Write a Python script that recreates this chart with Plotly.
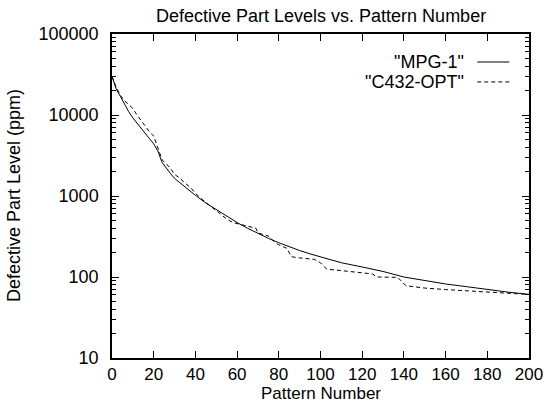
import plotly.graph_objects as go

# ---- data ----
mpg_x = [0, 2, 4, 6, 8, 10, 12, 14, 16, 18, 20, 22, 24, 26, 28, 30, 35, 40, 45, 50,
         55, 60, 65, 70, 75, 80, 85, 90, 95, 100, 110, 120, 130, 140, 150, 160, 170,
         180, 190, 200]
mpg_y = [30000, 21000, 17000, 13500, 11000, 9200, 8000, 6800, 5900, 5100, 4400, 3600,
         2600, 2200, 1900, 1650, 1280, 1020, 820, 680, 560, 470, 400, 345, 300, 265,
         235, 212, 193, 178, 150, 133, 117, 100, 90, 82, 76, 70, 65, 61]

c432_x = [0, 2, 4, 6, 8, 10, 12, 14, 16, 18, 20, 22, 24, 26, 28, 30, 32, 35, 38, 40,
          45, 50, 55, 58, 62, 66, 69, 70, 75, 78, 80, 84, 86, 90, 94, 97, 100, 103,
          110, 120, 125, 127, 137, 141, 150, 160, 170, 180, 190, 200]
c432_y = [30000, 22000, 17500, 15000, 13500, 12000, 10000, 8500, 7200, 6200, 5500,
          3800, 2800, 2500, 2200, 1850, 1700, 1450, 1250, 1080, 830, 660, 520, 470,
          440, 420, 400, 350, 320, 270, 250, 225, 178, 172, 170, 165, 150, 125, 120,
          113, 109, 100, 99, 78, 73, 70, 68, 66, 63, 61]

x_ticks = [0, 20, 40, 60, 80, 100, 120, 140, 160, 180, 200]
y_ticks = [10, 100, 1000, 10000, 100000]
y_tick_text = ["10", "100", "1000", "10000", "100000"]
series_names = ['"MPG-1"', '"C432-OPT"']

FONT = "Liberation Sans, Arial, Helvetica, sans-serif"
FS = 18
FS_SMALL = 17

y_minor = [m * d for d in [10, 100, 1000, 10000] for m in range(2, 10)]

fig = go.Figure()
fig.add_trace(go.Scatter(x=mpg_x, y=mpg_y, mode="lines", name=series_names[0],
                         line=dict(color="black", width=1), showlegend=False))
fig.add_trace(go.Scatter(x=c432_x, y=c432_y, mode="lines", name=series_names[1],
                         line=dict(color="black", width=1, dash="4px,3px"),
                         showlegend=False))

fig.update_layout(
    width=555, height=402,
    margin=dict(l=112, r=17, t=34, b=44),
    paper_bgcolor="white", plot_bgcolor="white",
    font=dict(family=FONT, size=FS, color="black"),
    showlegend=False,
)
fig.update_xaxes(
    range=[0, 200], tickmode="array", tickvals=x_ticks,
    ticks="inside", ticklen=7, tickwidth=1, tickcolor="black",
    showline=True, linecolor="black", linewidth=1.5, mirror="allticks",
    showgrid=False, zeroline=False, ticklabelstandoff=0,
    tickfont=dict(family=FONT, size=FS_SMALL),
)
fig.update_yaxes(
    type="log", range=[1, 5], tickmode="array", tickvals=y_ticks,
    ticktext=y_tick_text,
    ticks="inside", ticklen=7, tickwidth=1, tickcolor="black",
    showline=True, linecolor="black", linewidth=1.5, mirror="allticks",
    showgrid=False, zeroline=False, ticklabelstandoff=8,
    tickfont=dict(family=FONT, size=FS),
    minor=dict(tickmode="array", tickvals=y_minor, ticks="inside", ticklen=4,
               tickwidth=1, tickcolor="black", showgrid=False),
)

# title and axis titles
fig.add_annotation(text="Defective Part Levels vs. Pattern Number", xref="paper",
                   yref="paper", x=0.5, y=1, yshift=18, showarrow=False,
                   xanchor="center", yanchor="middle", font=dict(size=FS))
fig.add_annotation(text="Pattern Number", xref="paper", yref="paper", x=0.5, y=0,
                   yshift=-35.5, showarrow=False, xanchor="center", yanchor="middle",
                   font=dict(size=FS_SMALL))
fig.add_annotation(text="Defective Part Level (ppm)", xref="paper", yref="paper",
                   x=0, y=0.5, xshift=-98, textangle=-90, showarrow=False,
                   xanchor="center", yanchor="middle", font=dict(size=FS))

# gnuplot-style key (text right, sample on the right)
key_rows = [0.9136, 0.852]
key_dash = ["solid", "4px,3px"]
for name, yy, dsh in zip(series_names, key_rows, key_dash):
    fig.add_annotation(text=name, xref="paper", yref="paper", x=0.849, y=yy,
                       showarrow=False, xanchor="right", yanchor="middle",
                       font=dict(size=FS))
    fig.add_shape(type="line", xref="paper", yref="paper", x0=0.876, x1=0.953,
                  y0=yy, y1=yy, line=dict(color="black", width=1, dash=dsh))

fig.write_html("out.html")
